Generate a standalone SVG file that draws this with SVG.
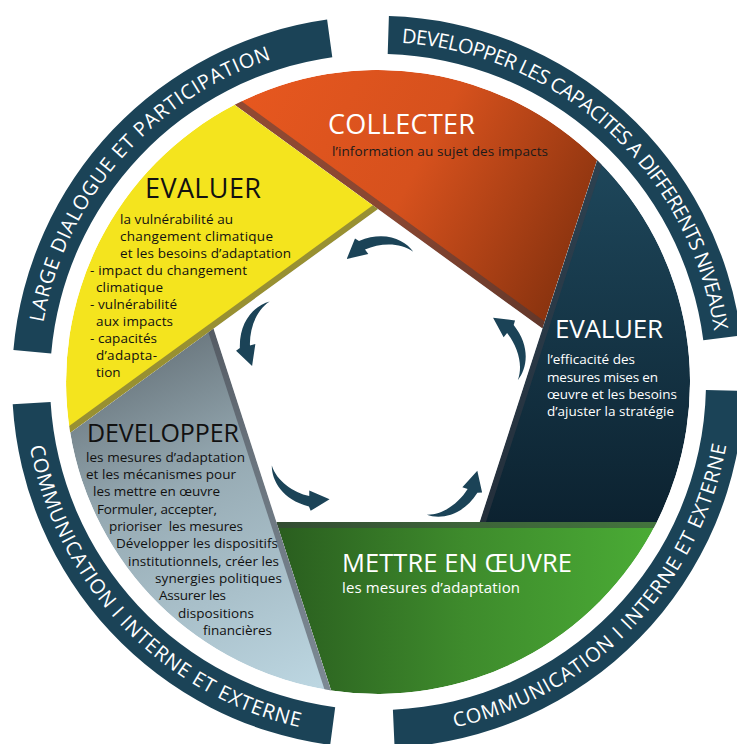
<svg xmlns="http://www.w3.org/2000/svg" xmlns:xlink="http://www.w3.org/1999/xlink" width="737" height="744" viewBox="0 0 737 744">
<style>
.band{fill:#1b4357}
.bt{font-family:'Open Sans','Noto Sans',sans-serif;font-size:20px;fill:#fff}
.h{font-family:'Open Sans','Noto Sans',sans-serif}
.t{font-family:'Open Sans','Noto Sans',sans-serif;font-size:13.5px}
.dk{fill:#111}
.wh{fill:#fff}
.strip{stroke:#3c3c46;stroke-opacity:0.5;fill:none}
.arrow{fill:#1b4357}
</style>
<defs>
<linearGradient id="gOrange" gradientUnits="userSpaceOnUse" x1="240" y1="110" x2="600" y2="300">
<stop offset="0" stop-color="#e6571f"/><stop offset="0.45" stop-color="#d6511d"/><stop offset="1" stop-color="#7a2d0c"/>
</linearGradient>
<linearGradient id="gBlue" gradientUnits="userSpaceOnUse" x1="0" y1="160" x2="0" y2="522">
<stop offset="0" stop-color="#1e475b"/><stop offset="1" stop-color="#0c2230"/>
</linearGradient>
<linearGradient id="gGreen" gradientUnits="userSpaceOnUse" x1="280" y1="0" x2="650" y2="0">
<stop offset="0" stop-color="#2a5e1f"/><stop offset="0.5" stop-color="#3e8b2c"/><stop offset="1" stop-color="#4aab35"/>
</linearGradient>
<linearGradient id="gGrey" gradientUnits="userSpaceOnUse" x1="150" y1="330" x2="310" y2="690">
<stop offset="0" stop-color="#657178"/><stop offset="0.4" stop-color="#97abb4"/><stop offset="1" stop-color="#bcd6e1"/>
</linearGradient>
<path id="sOrange" d="M234.6,104.8 L542.5,328.5 L597.2,160 A312,312 0 0 0 234.6,104.8 Z"/>
<path id="sBlue" d="M597.2,160 L479.7,522 L656.9,521.9 A312,312 0 0 0 597.2,160 Z"/>
<path id="sGreen" d="M656.9,521.9 L276.3,522 L331.1,690.4 A312,312 0 0 0 656.9,521.9 Z"/>
<path id="sGrey" d="M331.1,690.4 L213.5,328.5 L70.2,432.7 A312,312 0 0 0 331.1,690.4 Z"/>
<path id="sYellow" d="M70.2,432.7 L378,209 L234.6,104.8 A312,312 0 0 0 70.2,432.7 Z"/>
<clipPath id="cOrange"><use xlink:href="#sOrange"/></clipPath>
<clipPath id="cBlue"><use xlink:href="#sBlue"/></clipPath>
<clipPath id="cGreen"><use xlink:href="#sGreen"/></clipPath>
<clipPath id="cGrey"><use xlink:href="#sGrey"/></clipPath>
<clipPath id="cYellow"><use xlink:href="#sYellow"/></clipPath>
<path id="tp1" d="M42.4,327.6 A340,340 0 0 1 276.9,57.4"/>
<path id="tp2" d="M397,42.5 A340,340 0 0 1 714.7,334.7"/>
<path id="tp3" d="M28.6,439.2 A354,354 0 0 0 307.4,728.9"/>
<path id="tp4" d="M448,729 A354,354 0 0 0 727.6,437.4"/>
<path id="arr" d="M413.3,251.7 C405,240 385,230 359,241 L355,238.5 L346.7,259 L368.3,254 L365,249.5 C380,243 400,242 413.3,251.7 Z"/>
</defs>

<g id="band-dialogue">
<path class="band" d="M13.4,350.1 A366,366 0 0 1 327.1,19.6 L332.3,57.2 A328,328 0 0 0 51.2,353.4 Z"/>
<text class="bt" letter-spacing="0.8"><textPath xlink:href="#tp1" startOffset="50%" text-anchor="middle">LARGE DIALOGUE ET PARTICIPATION</textPath></text>
</g>
<g id="band-capacites">
<path class="band" d="M388.9,16.1 A366,366 0 0 1 741,335.5 L703.3,340.3 A328,328 0 0 0 387.7,54.1 Z"/>
<text class="bt" letter-spacing="-0.7"><textPath xlink:href="#tp2" startOffset="50%" text-anchor="middle">DEVELOPPER LES CAPACITES A DIFFERENTS NIVEAUX</textPath></text>
</g>
<g id="band-communication-right">
<path class="band" d="M743.9,390.9 A366,366 0 0 1 394.6,747.6 L392.9,709.7 A328,328 0 0 0 705.9,390 Z"/>
<text class="bt" letter-spacing="0.9"><textPath xlink:href="#tp4" startOffset="50%" text-anchor="middle">COMMUNICATION I INTERNE ET EXTERNE</textPath></text>
</g>
<g id="band-communication-left">
<path class="band" d="M330.2,744.9 A366,366 0 0 1 12.7,404.3 L50.6,402 A328,328 0 0 0 335.2,707.2 Z"/>
<text class="bt" letter-spacing="0.8"><textPath xlink:href="#tp3" startOffset="50%" text-anchor="middle">COMMUNICATION I INTERNE ET EXTERNE</textPath></text>
</g>

<g id="collecter">
<g clip-path="url(#cOrange)">
<use xlink:href="#sOrange" fill="url(#gOrange)"/>
<line class="strip" x1="218.4" y1="93" x2="558.7" y2="340.3" stroke-width="14"/>
</g>
<text class="h wh" x="328" y="134" font-size="27" textLength="147">COLLECTER</text>
<text class="t" x="332" y="156" fill="#1a1a1a" textLength="216">l’information au sujet des impacts</text>
</g>

<g id="evaluer-efficacite">
<g clip-path="url(#cBlue)">
<use xlink:href="#sBlue" fill="url(#gBlue)"/>
<line class="strip" x1="603.4" y1="141" x2="473.5" y2="541" stroke-width="12"/>
</g>
<text class="h wh" x="555" y="338" font-size="26" textLength="108">EVALUER</text>
<text class="t wh" x="547" y="364.3" textLength="88">l’efficacité des</text>
<text class="t wh" x="547" y="381.6" textLength="111">mesures mises en</text>
<text class="t wh" x="547" y="398.8" textLength="130">œuvre et les besoins</text>
<text class="t wh" x="547" y="416" textLength="127">d’ajuster la stratégie</text>
</g>

<g id="mettre-en-oeuvre">
<g clip-path="url(#cGreen)">
<use xlink:href="#sGreen" fill="url(#gGreen)"/>
<line class="strip" x1="256" y1="522" x2="677" y2="522" stroke-width="12"/>
</g>
<text class="h wh" x="342" y="572" font-size="25.5" textLength="230">METTRE EN ŒUVRE</text>
<text class="h wh" x="342" y="593" font-size="15" textLength="178">les mesures d’adaptation</text>
</g>

<g id="developper">
<g clip-path="url(#cGrey)">
<use xlink:href="#sGrey" fill="url(#gGrey)"/>
<line class="strip" x1="207.3" y1="309.5" x2="337.3" y2="709.4" stroke-width="12"/>
</g>
<text class="h dk" x="87" y="442" font-size="25" textLength="152">DEVELOPPER</text>
<text class="t dk" x="86" y="461.5" textLength="159">les mesures d’adaptation</text>
<text class="t dk" x="86" y="478.9" textLength="150">et les mécanismes pour</text>
<text class="t dk" x="93" y="496.2" textLength="127">les mettre en œuvre</text>
<text class="t dk" x="97" y="513.6" textLength="120">Formuler, accepter,</text>
<text class="t dk" x="109" y="530.9" textLength="134">prioriser&#160; les mesures</text>
<text class="t dk" x="116" y="548.3" textLength="162">Développer les dispositifs</text>
<text class="t dk" x="128" y="565.6" textLength="151">institutionnels, créer les</text>
<text class="t dk" x="155" y="583" textLength="127">synergies politiques</text>
<text class="t dk" x="159" y="600.3" textLength="67">Assurer les</text>
<text class="t dk" x="178" y="617.7" textLength="76">dispositions</text>
<text class="t dk" x="203" y="635" textLength="69">financières</text>
</g>

<g id="evaluer-vulnerabilite">
<g clip-path="url(#cYellow)">
<use xlink:href="#sYellow" fill="#f4e41e"/>
<line class="strip" x1="54" y1="444.5" x2="394.2" y2="197.2" stroke-width="12"/>
</g>
<text class="h dk" x="145" y="198" font-size="27" textLength="116">EVALUER</text>
<text class="t dk" x="120" y="224" textLength="113">la vulnérabilité au</text>
<text class="t dk" x="120" y="241" textLength="153">changement climatique</text>
<text class="t dk" x="120" y="258" textLength="171">et les besoins d’adaptation</text>
<text class="t dk" x="90" y="275" textLength="157">- impact du changement</text>
<text class="t dk" x="96" y="292" textLength="67">climatique</text>
<text class="t dk" x="90" y="309" textLength="87">- vulnérabilité</text>
<text class="t dk" x="96" y="326" textLength="77">aux impacts</text>
<text class="t dk" x="90" y="343" textLength="67">- capacités</text>
<text class="t dk" x="96" y="360" textLength="61">d’adapta-</text>
<text class="t dk" x="96" y="377">tion</text>
</g>

<g id="connectors">
<use class="arrow" xlink:href="#arr"/>
<use class="arrow" xlink:href="#arr" transform="translate(4.8,-1.3) rotate(74.6 378 382)"/>
<use class="arrow" xlink:href="#arr" transform="translate(3.7,5.4) rotate(145.4 378 382)"/>
<use class="arrow" xlink:href="#arr" transform="rotate(216.7 378 382)"/>
<use class="arrow" xlink:href="#arr" transform="rotate(291.5 378 382)"/>
</g>
</svg>
